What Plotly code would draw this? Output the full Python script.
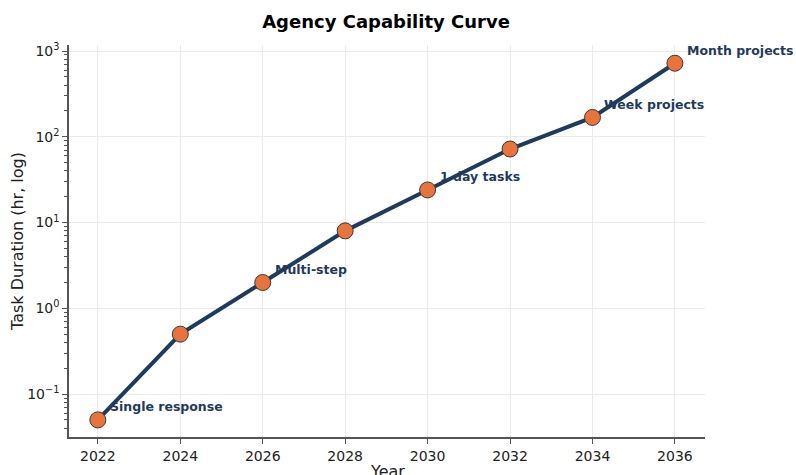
import math
import plotly.graph_objects as go

years = [2022, 2024, 2026, 2028, 2030, 2032, 2034, 2036]
hours = [0.05, 0.5, 2, 8, 24, 72, 168, 720]
label_years = [2022, 2026, 2030, 2034, 2036]
label_hours = [0.05, 2, 24, 168, 720]
label_texts = ["Single response", "Multi-step", "1 day tasks", "Week projects", "Month projects"]
x_ticks = [2022, 2024, 2026, 2028, 2030, 2032, 2034, 2036]
y_ticks = [0.1, 1, 10, 100, 1000]
y_ticktext = ["10<sup>−1</sup>", "10<sup>0</sup>", "10<sup>1</sup>", "10<sup>2</sup>", "10<sup>3</sup>"]

navy = "#1f3a5f"
orange = "#e8743b"
font = "DejaVu Sans"

fig = go.Figure()
fig.add_trace(go.Scatter(
    x=years, y=hours, mode="lines+markers",
    line=dict(color=navy, width=4),
    marker=dict(size=16, color=orange, line=dict(color="#3a3a3a", width=1)),
    showlegend=False,
))

for x, y, t in zip(label_years, label_hours, label_texts):
    fig.add_annotation(
        x=x, y=math.log10(y), xref="x", yref="y", text="<b>" + t + "</b>",
        showarrow=False, xanchor="left", yanchor="middle",
        xshift=10, yshift=13,
        font=dict(family=font, size=12.5, color=navy),
    )

# axis titles
fig.add_annotation(x=0.5, y=-0.087, xref="paper", yref="paper", text="Year",
                   showarrow=False, xanchor="center", yanchor="middle",
                   font=dict(family=font, size=16, color="#222222"))
fig.add_annotation(x=-0.0818, y=0.5, xref="paper", yref="paper", text="Task Duration (hr, log)",
                   showarrow=False, xanchor="center", yanchor="middle", textangle=-90,
                   font=dict(family=font, size=16, color="#222222"))

fig.update_layout(
    width=796, height=475,
    margin=dict(l=69, r=91, t=45, b=38),
    paper_bgcolor="white", plot_bgcolor="white",
    font=dict(family=font, color="black"),
    title=dict(text="<b>Agency Capability Curve</b>", x=0.485, xanchor="center",
               y=0.955, yanchor="middle", font=dict(family=font, size=18, color="black")),
    xaxis=dict(
        range=[2021.3, 2036.73], tickvals=x_ticks, automargin=False,
        showgrid=True, gridcolor="#ebebeb", gridwidth=1,
        showline=True, linecolor="#555555", linewidth=1.5, mirror=False,
        ticks="outside", ticklen=5, tickcolor="#555555",
        tickfont=dict(family=font, size=14, color="#222222"),
        zeroline=False,
    ),
    yaxis=dict(
        type="log", range=[math.log10(0.0316), math.log10(1175)], automargin=False,
        tickvals=y_ticks, ticktext=y_ticktext,
        showgrid=True, gridcolor="#ebebeb", gridwidth=1,
        showline=True, linecolor="#555555", linewidth=1.5, mirror=False,
        ticks="outside", ticklen=5, tickcolor="#555555",
        tickfont=dict(family=font, size=14, color="#222222"),
        minor=dict(ticks="outside", ticklen=3, tickcolor="#555555", showgrid=False,
                   tickvals=[m * 10 ** e for e in range(-2, 4) for m in range(2, 10)]),
        zeroline=False,
    ),
)

fig.write_html("out.html")
